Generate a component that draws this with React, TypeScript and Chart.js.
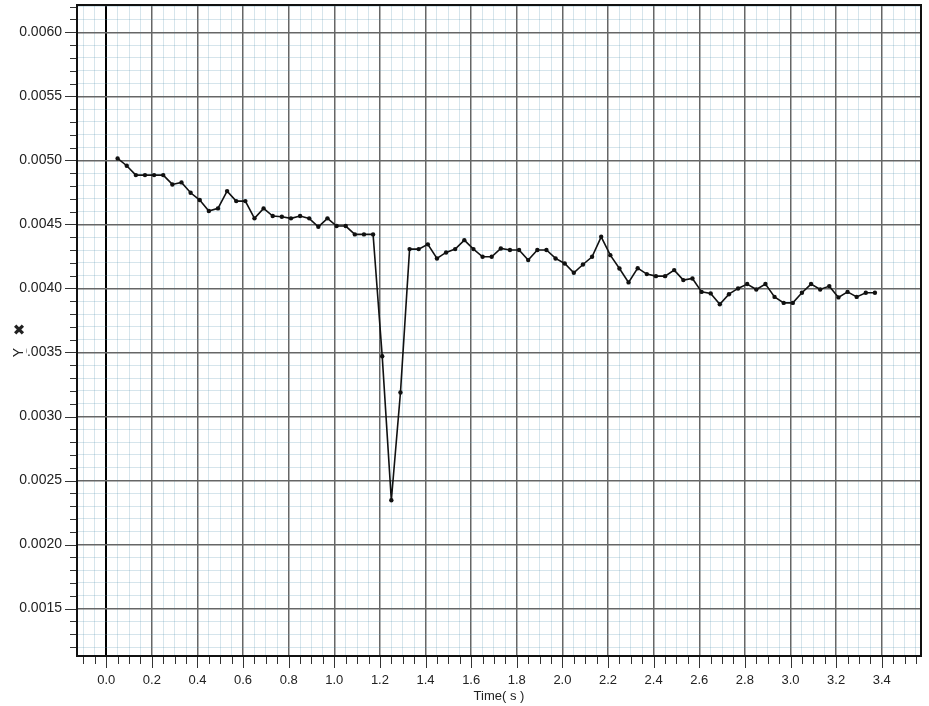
import React, { useEffect, useRef } from 'react';
import { Chart, registerables } from 'chart.js';

Chart.register(...registerables);

const times = [
  0.05, 0.09, 0.13, 0.17, 0.21, 0.25, 0.29, 0.33, 0.37, 0.41,
  0.45, 0.49, 0.53, 0.57, 0.61, 0.65, 0.69, 0.73, 0.77, 0.81,
  0.85, 0.89, 0.93, 0.97, 1.01, 1.05, 1.09, 1.13, 1.17, 1.21,
  1.25, 1.29, 1.33, 1.37, 1.41, 1.45, 1.49, 1.53, 1.57, 1.61,
  1.65, 1.69, 1.73, 1.77, 1.81, 1.85, 1.89, 1.93, 1.97, 2.01,
  2.05, 2.09, 2.13, 2.17, 2.21, 2.25, 2.29, 2.33, 2.37, 2.41,
  2.45, 2.49, 2.53, 2.57, 2.61, 2.65, 2.69, 2.73, 2.77, 2.81,
  2.85, 2.89, 2.93, 2.97, 3.01, 3.05, 3.09, 3.13, 3.17, 3.21,
  3.25, 3.29, 3.33, 3.37,
];

const yValues = [
  0.005015, 0.004958, 0.004885, 0.004885, 0.004885, 0.004885, 0.004812, 0.004828, 0.004747, 0.004690,
  0.004604, 0.004625, 0.004760, 0.004682, 0.004682, 0.004547, 0.004625, 0.004565, 0.004560, 0.004547,
  0.004565, 0.004547, 0.004481, 0.004547, 0.004487, 0.004487, 0.004422, 0.004422, 0.004422, 0.003471,
  0.002346, 0.003187, 0.004307, 0.004307, 0.004344, 0.004234, 0.004281, 0.004307, 0.004377, 0.004307,
  0.004247, 0.004247, 0.004312, 0.004300, 0.004300, 0.004221, 0.004300, 0.004300, 0.004234, 0.004195,
  0.004122, 0.004187, 0.004247, 0.004403, 0.004260, 0.004156, 0.004047, 0.004158, 0.004112, 0.004096,
  0.004096, 0.004143, 0.004065, 0.004078, 0.003973, 0.003961, 0.003877, 0.003955, 0.004000, 0.004034,
  0.003992, 0.004034, 0.003934, 0.003887, 0.003887, 0.003966, 0.004034, 0.003992, 0.004018, 0.003930,
  0.003973, 0.003934, 0.003966, 0.003966,
];

const X_MIN = -0.128;
const X_MAX = 3.572;
const Y_MIN = 0.00113;
const Y_MAX = 0.006213;
const X_MINOR_STEP = 0.05;
const X_MAJOR_STEP = 0.2;
const Y_MINOR_STEP = 0.0001;
const Y_MAJOR_STEP = 0.0005;
const X_TITLE = 'Time( s )';
const Y_TITLE = 'Y';
const Y_TITLE_MARK = '\u2716';

const MAJOR_GRID = '#666666';
const MINOR_GRID = 'rgba(90,150,180,0.25)';

const onStep = (v: number, step: number) => Math.abs(v / step - Math.round(v / step)) < 1e-6;
const isMajorX = (v: number) => onStep(v, X_MAJOR_STEP);
const isMajorY = (v: number) => onStep(v, Y_MAJOR_STEP);

const stepTicks = (min: number, max: number, step: number) => {
  const out: { value: number }[] = [];
  const k0 = Math.ceil(min / step - 1e-9);
  const k1 = Math.floor(max / step + 1e-9);
  const dec = Math.max(0, -Math.floor(Math.log10(step))) + 1;
  for (let k = k0; k <= k1; k++) out.push({ value: Number((k * step).toFixed(dec)) });
  return out;
};

const FONT = 'Liberation Sans, Arial, sans-serif';

const decorPlugin = {
  id: 'decor',
  afterDraw(chart: any) {
    const { ctx, chartArea: a, scales } = chart;
    const xs = scales.x;
    const ys = scales.y;
    ctx.save();
    ctx.strokeStyle = '#333';
    ctx.lineWidth = 1;
    for (const t of xs.ticks) {
      const px = Math.round(xs.getPixelForValue(t.value)) + 0.5;
      const len = isMajorX(t.value) ? 12 : 8;
      ctx.beginPath();
      ctx.moveTo(px, a.bottom);
      ctx.lineTo(px, a.bottom + len);
      ctx.stroke();
    }
    for (const t of ys.ticks) {
      const py = Math.round(ys.getPixelForValue(t.value)) + 0.5;
      const len = isMajorY(t.value) ? 12 : 7;
      ctx.beginPath();
      ctx.moveTo(a.left, py);
      ctx.lineTo(a.left - len, py);
      ctx.stroke();
    }
    ctx.strokeStyle = '#111';
    ctx.lineWidth = 2;
    ctx.strokeRect(a.left, a.top, a.right - a.left, a.bottom - a.top);
    const yy = ys.getPixelForValue(0.0035);
    ctx.fillStyle = '#fff';
    ctx.fillRect(13, yy - 8, 13, 16);
    ctx.fillStyle = '#222';
    ctx.textAlign = 'center';
    ctx.textBaseline = 'middle';
    ctx.font = 'bold 15px "DejaVu Sans"';
    ctx.fillText(Y_TITLE_MARK, 19, yy - 21);
    ctx.translate(19, yy);
    ctx.rotate(-Math.PI / 2);
    ctx.font = '14px ' + FONT;
    ctx.fillText(Y_TITLE, 0, 0);
    ctx.restore();
  },
};

export default function App() {
  const ref = useRef<HTMLCanvasElement | null>(null);

  useEffect(() => {
    if (!ref.current) return;
    const chart = new Chart(ref.current, {
      type: 'line',
      data: {
        datasets: [
          {
            data: times.map((t, i) => ({ x: t, y: yValues[i] })),
            borderColor: '#111',
            backgroundColor: '#111',
            borderWidth: 1.6,
            pointRadius: 2.2,
            pointBackgroundColor: '#111',
            pointBorderColor: '#111',
            pointBorderWidth: 0,
            tension: 0,
            fill: false,
          },
        ],
      },
      options: {
        animation: false,
        responsive: false,
        devicePixelRatio: 1,
        layout: { padding: { left: 0, right: 8, top: 5, bottom: 0 } },
        plugins: { legend: { display: false }, tooltip: { enabled: false } },
        scales: {
          x: {
            type: 'linear',
            min: X_MIN,
            max: X_MAX,
            afterBuildTicks: (s: any) => {
              s.ticks = stepTicks(s.min, s.max, X_MINOR_STEP);
            },
            afterFit: (s: any) => {
              s.height = 50;
              s.paddingLeft = 0;
              s.paddingRight = 0;
            },
            ticks: {
              autoSkip: false,
              maxRotation: 0,
              minRotation: 0,
              padding: 17,
              color: '#222',
              font: { family: FONT, size: 13 },
              callback: (v: any) => (isMajorX(Number(v)) ? Number(v).toFixed(1) : ''),
            },
            grid: {
              drawTicks: false,
              color: (c: any) => {
                const v = c.tick ? c.tick.value : 1;
                if (Math.abs(v) < 1e-9) return '#000';
                return isMajorX(v) ? MAJOR_GRID : MINOR_GRID;
              },
              lineWidth: (c: any) => {
                const v = c.tick ? c.tick.value : 1;
                if (Math.abs(v) < 1e-9) return 2;
                return isMajorX(v) ? 1.5 : 1;
              },
            },
            border: { display: false },
            title: {
              display: true,
              text: X_TITLE,
              color: '#222',
              font: { family: FONT, size: 13 },
              padding: { top: 0, bottom: 2 },
            },
          },
          y: {
            type: 'linear',
            min: Y_MIN,
            max: Y_MAX,
            afterBuildTicks: (s: any) => {
              s.ticks = stepTicks(s.min, s.max, Y_MINOR_STEP);
            },
            afterFit: (s: any) => {
              s.width = 77;
              s.paddingTop = 0;
              s.paddingBottom = 0;
            },
            ticks: {
              autoSkip: false,
              padding: 15,
              color: '#222',
              font: { family: FONT, size: 14 },
              callback: (v: any) => (isMajorY(Number(v)) ? Number(v).toFixed(4) : ''),
            },
            grid: {
              drawTicks: false,
              color: (c: any) => {
                const v = c.tick ? c.tick.value : 0.0001;
                return isMajorY(v) ? MAJOR_GRID : MINOR_GRID;
              },
              lineWidth: (c: any) => {
                const v = c.tick ? c.tick.value : 0.0001;
                return isMajorY(v) ? 1.5 : 1;
              },
            },
            border: { display: false },
          },
        },
      },
      plugins: [decorPlugin],
    } as any);
    return () => chart.destroy();
  }, []);

  return (
    <div style={{ position: 'absolute', left: 0, top: 0, width: 929, height: 706, background: '#fff' }}>
      <canvas ref={ref} width={929} height={706} style={{ display: 'block' }} />
    </div>
  );
}
